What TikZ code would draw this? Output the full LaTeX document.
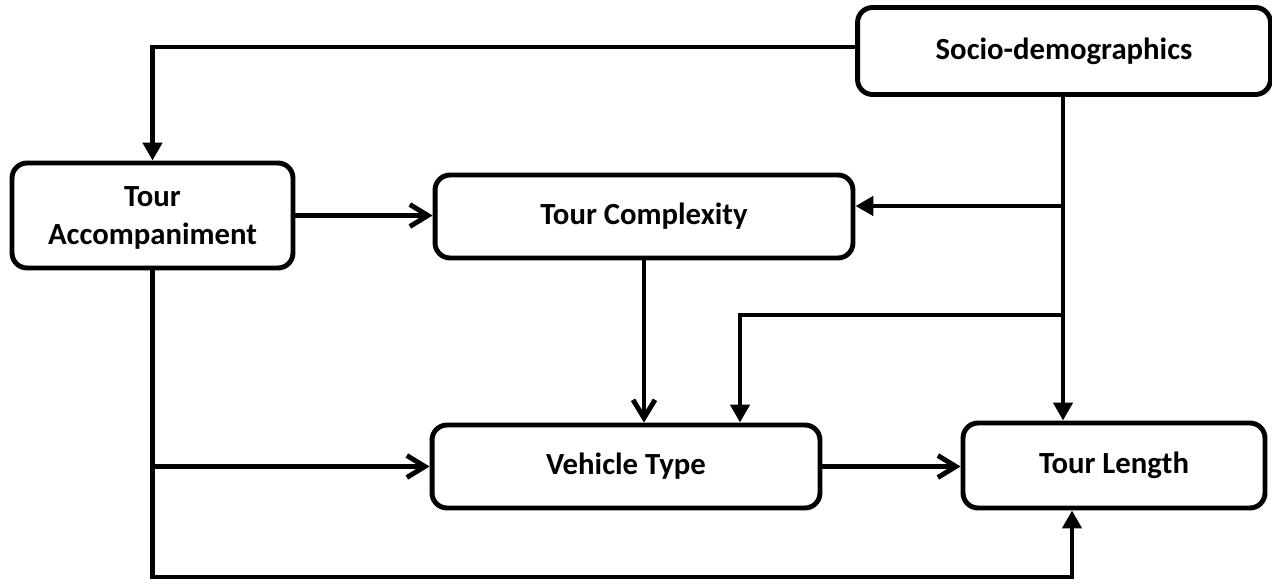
\documentclass[tikz,border=0pt]{standalone}
\usepackage{fontspec}
\setmainfont{Carlito}
\usetikzlibrary{arrows.meta}

\begin{document}
\begin{tikzpicture}
      [x=0.02cm,y=-0.02cm,line width=2.8pt,
       every node/.style={draw,rounded corners=0.3cm,align=center,
         font=\fontsize{17.5}{22}\selectfont\bfseries},
       fillarr/.style={-{Triangle[width=0.38cm,length=0.36cm]}},
       openarr/.style={-{Straight Barb[width=0.44cm,length=0.36cm]}}]
      \useasboundingbox (0,0) rectangle (1272,584);

      \node [minimum width=8.26cm,minimum height=1.74cm] (socio) at (1064,51) {Socio-demographics};
      \node [minimum width=5.62cm,minimum height=2.10cm,text depth=0pt] (acc) at (152.5,215.5) {Tour\\Accompaniment};
      \node [minimum width=8.36cm,minimum height=1.66cm] (cplx) at (644,216.5) {Tour Complexity};
      \node [minimum width=7.76cm,minimum height=1.66cm] (veh) at (626,466.5) {Vehicle Type};
      \node [minimum width=6.04cm,minimum height=1.70cm] (len) at (1114,465.5) {Tour Length};

      \coordinate (b1) at (1063,206);
      \coordinate (b2) at (1063,315);
      \coordinate (t1) at (740,315);
      \coordinate (c1) at (152.5,577);
      \coordinate (c2) at (1072,577);

      % from socio-demographics
      \draw [fillarr] ([yshift=0.08cm]socio.west) -| (acc.north);
      \draw [fillarr] (b1 |- socio.south) -- (b1 |- len.north);
      \draw [fillarr] (b1) -- (b1 -| cplx.east);
      \draw [fillarr] (b2) -- (t1) -- (t1 |- veh.north);

      % between the choices
      \draw [openarr] (acc.east) -- (acc.east -| cplx.west);
      \draw [openarr] (cplx.south) -- (cplx.south |- veh.north);
      \draw [openarr] (acc.south |- veh.west) -- (veh.west);
      \draw [openarr] (veh.east) -- (veh.east -| len.west);
      \draw [fillarr] (acc.south) -- (c1) -- (c2) -- (c2 |- len.south);
    \end{tikzpicture}
\end{document}
